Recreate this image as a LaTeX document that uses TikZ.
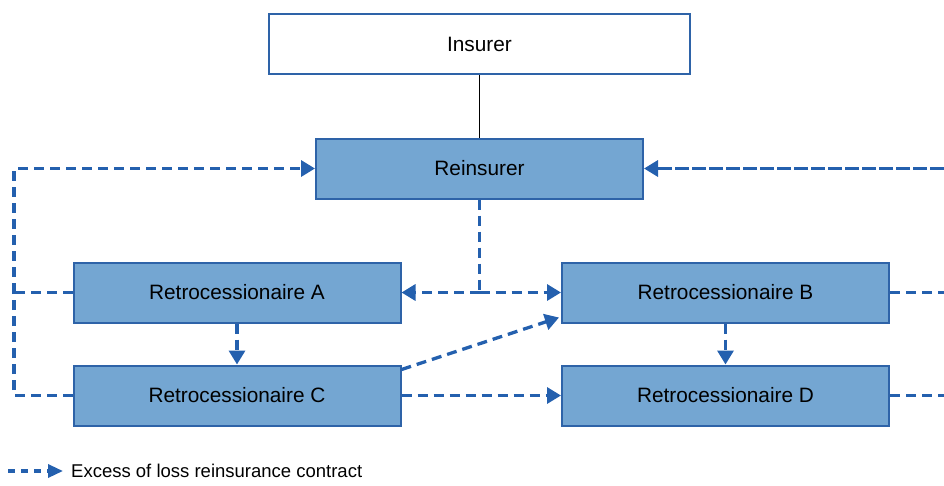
\documentclass[tikz,border=0pt]{standalone}
\usepackage{fontspec}
\setmainfont{Liberation Sans}
\usetikzlibrary{arrows.meta}
\definecolor{boxfill}{HTML}{74A6D2}
\definecolor{boxline}{HTML}{2E63A8}
\definecolor{conn}{HTML}{2460AE}
\tikzset{
  plainbox/.style={draw=boxline, line width=2pt, fill=white, minimum width=421pt, minimum height=60pt, inner sep=0pt, font=\fontsize{20.8}{25}\selectfont},
  bluebox/.style={draw=boxline, line width=2pt, fill=boxfill, minimum width=327pt, minimum height=60pt, inner sep=0pt, font=\fontsize{20.8}{25}\selectfont},
  xol/.style={draw=conn, line width=3.3pt, dash pattern=on 10pt off 6pt},
  xoldense/.style={draw=conn, line width=3.3pt, dash pattern=on 14pt off 3pt},
  tip/.style={-{Triangle[length=14pt,width=16pt]}},
}
\begin{document}
\begin{tikzpicture}[x=1pt,y=-1pt]
\useasboundingbox (0,0) rectangle (944,485);
\node[plainbox] (ins) at (479.5,44) {Insurer};
\node[bluebox] (rei) at (479.5,168.5) {Reinsurer};
\node[bluebox] (ra) at (237,292.5) {Retrocessionaire A};
\node[bluebox] (rb) at (725.5,292.5) {Retrocessionaire B};
\node[bluebox] (rc) at (237,395.5) {Retrocessionaire C};
\node[bluebox] (rd) at (725.5,395.5) {Retrocessionaire D};
\coordinate (lt) at (14,168.5);
\coordinate (lm) at (14,292.5);
\coordinate (lb) at (14,395.5);
\coordinate (rt) at (944,168.5);
\coordinate (rm) at (944,292.5);
\coordinate (rbo) at (944,395.5);
\coordinate (split) at (479.5,292.5);
% solid link
\draw[line width=1.8pt] (ins.south) -- (rei.north);
% left loop
\draw[xol] (ra.west) -- (lm);
\draw[xol] (rc.west) -- (lb) -- (lm);
\draw[xol,tip] (lm) -- (lt) -- (rei.west);
% right side
\draw[xoldense,tip] (rt) -- (rei.east);
\draw[xol] (rb.east) -- (rm);
\draw[xol] (rd.east) -- (rbo);
% reinsurer to A and B
\draw[xol] (rei.south) -- (split);
\draw[xol,tip] (split) -- (ra.east);
\draw[xol,tip] (split) -- (rb.west);
% verticals
\draw[xol,tip] (ra.south) -- (rc.north);
\draw[xol,tip] (rb.south) -- (rd.north);
% C to B and D
\draw[xol,tip] ([yshift=-5pt]rc.north east) -- ([xshift=-2pt,yshift=6pt]rb.south west);
\draw[xol,tip] (rc.east) -- (rd.west);
% legend
\coordinate (lg0) at (8,471);
\coordinate (lg1) at (63,471);
\draw[draw=conn, line width=3.3pt, dash pattern=on 7pt off 6pt, -{Triangle[length=15pt,width=13pt]}] (lg0) -- (lg1);
\node[anchor=west, inner sep=0pt, font=\fontsize{18.5}{22}\selectfont] (leg) at (71,471) {Excess of loss reinsurance contract};
\end{tikzpicture}
\end{document}
